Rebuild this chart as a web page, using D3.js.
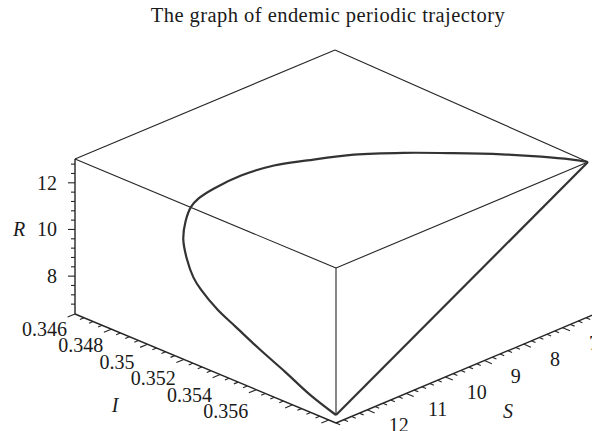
<!DOCTYPE html>
<html>
<head>
<meta charset="utf-8">
<script src="https://cdn.jsdelivr.net/npm/d3@7"></script>
<style>
  body { margin: 0; background: #fff; }
  svg { display: block; }
  text { font-family: "Liberation Serif", "DejaVu Serif", serif; fill: #1a1a1a; }
</style>
</head>
<body>
<svg id="chart" width="592" height="431"></svg>
<script>
// trajectory values (one closed period)
var trajS = [6.35, 6.44, 6.62, 6.885, 7.247, 7.621, 8.033, 8.491, 8.833, 9.259, 9.698, 9.988,
             10.188, 10.478, 10.813, 11.142, 11.413, 11.574, 11.807, 11.974, 12.2, 12.407, 12.632, 12.8];
var trajI = [0.3604, 0.3596, 0.35834, 0.3567, 0.35471, 0.35277, 0.3509, 0.3493, 0.3482, 0.34731, 0.34676, 0.34656,
             0.3466, 0.34695, 0.34757, 0.34851, 0.34947, 0.35025, 0.35169, 0.35306, 0.35491, 0.35674, 0.35861, 0.3604];
var trajR = [13.02, 12.93, 12.755, 12.497, 12.144, 11.779, 11.376, 10.928, 10.595, 10.179, 9.75, 9.467,
             9.272, 8.988, 8.66, 8.339, 8.075, 7.917, 7.69, 7.526, 7.306, 7.104, 6.884, 6.72];

// axis ranges and tick labels
var sDomain = [6.35, 12.8];
var iDomain = [0.346, 0.3604];
var rDomain = [6.72, 13.02];
var sLabels = ["7", "8", "9", "10", "11", "12"];
var iLabels = ["0.346", "0.348", "0.35", "0.352", "0.354", "0.356"];
var rLabels = ["8", "10", "12"];

var title = "The graph of endemic periodic trajectory";

var svg = d3.select("#chart");

// fractions along each box direction
var aScale = d3.scaleLinear().domain([iDomain[1], iDomain[0]]).range([0, 1]); // front -> left
var bScale = d3.scaleLinear().domain([sDomain[1], sDomain[0]]).range([0, 1]); // front -> right
var wScale = d3.scaleLinear().domain([rDomain[0], rDomain[1]]).range([0, 1]); // bottom -> top

// screen geometry of the box
var front = [336, 415];
var vecL = [-261, -109];
var vecR = [252, -106];
var vecK = [8, -3];
var boxH = 147;
var axisOff = 8;
var fs = 20;

function projF(a, b, w) {
    return [front[0] + a * vecL[0] + b * vecR[0] + a * b * vecK[0],
            front[1] + a * vecL[1] + b * vecR[1] + a * b * vecK[1] - w * boxH];
}
function proj(S, I, R) {
    return projF(aScale(I), bScale(S), wScale(R));
}

var stroke = "#262626";

function seg(p, q, w) {
    svg.append("line")
        .attr("x1", p[0]).attr("y1", p[1])
        .attr("x2", q[0]).attr("y2", q[1])
        .attr("stroke", stroke)
        .attr("stroke-width", w || 1.1);
}

// top face of the box
var apex = projF(1, 1, 1), leftTop = projF(1, 0, 1), rightTop = projF(0, 1, 1), frontTop = projF(0, 0, 1);
seg(apex, leftTop);
seg(apex, rightTop);
seg(leftTop, frontTop);
seg(frontTop, rightTop);
// front vertical edge
seg(frontTop, projF(0, 0, 0));

// R axis (left vertical edge)
var rBottom = projF(1, 0, 0);
seg(leftTop, [rBottom[0], rBottom[1] + axisOff], 1.4);
for (var k = 17; k <= 32; k++) {
    var rv = k * 0.4;
    if (rv < rDomain[0] || rv > rDomain[1]) continue;
    var p = projF(1, 0, wScale(rv));
    var major = (k % 5 === 0);
    seg(p, [p[0] - (major ? 7 : 4), p[1]], 1.1);
}
rLabels.forEach(function(t) {
    var p = projF(1, 0, wScale(+t));
    svg.append("text")
        .attr("x", p[0] - 18).attr("y", p[1])
        .attr("text-anchor", "end")
        .attr("dominant-baseline", "central")
        .attr("font-size", fs)
        .text(t);
});
svg.append("text")
    .attr("x", 19).attr("y", projF(1, 0, wScale(10))[1])
    .attr("text-anchor", "middle")
    .attr("dominant-baseline", "central")
    .attr("font-size", fs)
    .attr("font-style", "italic")
    .text("R");

// I axis (left-front bottom edge, pushed down)
var iDir = [-vecR[0], -vecR[1]];
var iLen = Math.hypot(iDir[0], iDir[1]);
iDir = [iDir[0] / iLen, iDir[1] / iLen];
var iStart = projF(1, 0, 0), iEnd = projF(0, 0, 0);
seg([iStart[0], iStart[1] + axisOff], [iEnd[0], iEnd[1] + axisOff], 1.4);
for (var k = 692; k <= 721; k++) {
    var iv = k * 0.0005;
    if (iv < iDomain[0] - 1e-9 || iv > iDomain[1]) continue;
    var p = projF(aScale(iv), 0, 0);
    p = [p[0], p[1] + axisOff];
    var major = (k % 4 === 0);
    var len = major ? 8 : 4.5;
    seg(p, [p[0] + iDir[0] * len, p[1] + iDir[1] * len], 1.1);
}
iLabels.forEach(function(t, n) {
    var p = projF(aScale(+t), 0, 0);
    svg.append("text")
        .attr("x", p[0] + iDir[0] * 33).attr("y", p[1] + axisOff + iDir[1] * 33 + 2 + n * 1.4)
        .attr("text-anchor", "middle")
        .attr("dominant-baseline", "central")
        .attr("font-size", fs)
        .text(t);
});
svg.append("text")
    .attr("x", 115).attr("y", 405)
    .attr("text-anchor", "middle")
    .attr("dominant-baseline", "central")
    .attr("font-size", fs)
    .attr("font-style", "italic")
    .text("I");

// S axis (front-right bottom edge, pushed down)
var sDir = [-vecL[0], -vecL[1]];
var sLen = Math.hypot(sDir[0], sDir[1]);
sDir = [sDir[0] / sLen, sDir[1] / sLen];
var sEnd = projF(0, 1, 0);
seg([iEnd[0], iEnd[1] + axisOff], [sEnd[0] + 10, sEnd[1] + axisOff - 10 * 106 / 252], 1.4);
for (var k = 30; k <= 65; k++) {
    var sv = k * 0.2;
    if (sv < sDomain[0] || sv > sDomain[1]) continue;
    var p = projF(0, bScale(sv), 0);
    p = [p[0], p[1] + axisOff];
    var major = (k % 5 === 0);
    var len = major ? 8 : 4.5;
    seg(p, [p[0] + sDir[0] * len, p[1] + sDir[1] * len], 1.1);
}
sLabels.forEach(function(t) {
    var p = projF(0, bScale(+t), 0);
    svg.append("text")
        .attr("x", p[0] + sDir[0] * 34).attr("y", p[1] + axisOff + sDir[1] * 34 + 2)
        .attr("text-anchor", "middle")
        .attr("dominant-baseline", "central")
        .attr("font-size", fs)
        .text(t);
});
svg.append("text")
    .attr("x", 508).attr("y", 411)
    .attr("text-anchor", "middle")
    .attr("dominant-baseline", "central")
    .attr("font-size", fs)
    .attr("font-style", "italic")
    .text("S");

// the periodic trajectory
var traj = trajS.map(function(s, i) { return proj(s, trajI[i], trajR[i]); });
var line = d3.line().curve(d3.curveCatmullRom.alpha(0.5));
svg.append("path")
    .attr("d", line(traj))
    .attr("fill", "none")
    .attr("stroke", "#333")
    .attr("stroke-width", 2.2)
    .attr("stroke-linejoin", "round");
// pulse jump back to the start
svg.append("path")
    .attr("d", d3.line()([traj[traj.length - 1], traj[0]]))
    .attr("fill", "none")
    .attr("stroke", "#333")
    .attr("stroke-width", 2.2);

// title
svg.append("text")
    .attr("x", 328).attr("y", 22)
    .attr("text-anchor", "middle")
    .attr("font-size", 20.5)
    .attr("letter-spacing", 0.45)
    .text(title);
</script>
</body>
</html>
